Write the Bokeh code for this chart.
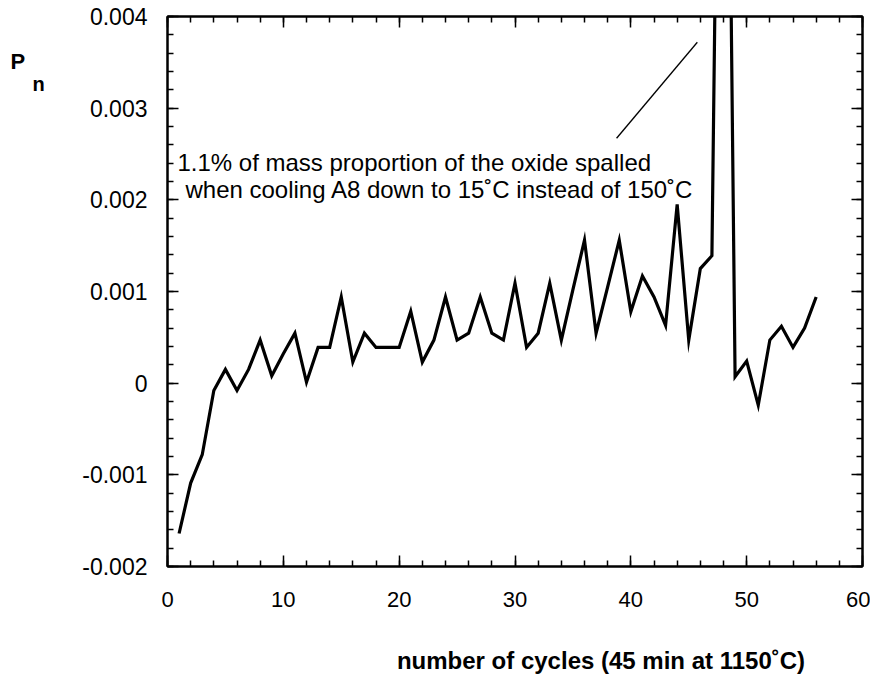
from bokeh.plotting import figure
from bokeh.layouts import row, column
from bokeh.models import (Range1d, LinearAxis, SingleIntervalTicker, Label,
                          CustomJSTickFormatter, ColumnDataSource)
from bokeh.embed import file_html
from bokeh.resources import INLINE

# ---- data ----
cycles = list(range(1, 57))
pn = [-1.64, -1.09, -0.78, -0.08, 0.15, -0.08, 0.15, 0.47, 0.08, 0.32,
      0.545, 0.01, 0.39, 0.39, 0.94, 0.23, 0.545, 0.39, 0.39, 0.39,
      0.785, 0.23, 0.47, 0.94, 0.47, 0.545, 0.94, 0.545, 0.47, 1.09,
      0.39, 0.545, 1.09, 0.47, 1.02, 1.56, 0.545, 1.05, 1.56, 0.78,
      1.17, 0.94, 0.63, 1.95, 0.47, 1.25, 1.39, 11.9, 0.07, 0.24,
      -0.24, 0.47, 0.62, 0.39, 0.60, 0.94]
pn = [v * 1e-3 for v in pn]

x_ticks_interval = 10
y_ticks_interval = 0.001

note_line1 = "1.1% of mass proportion of the oxide spalled"
note_line2 = "when cooling A8 down to 15˚C instead of 150˚C"
leader_x = [45.74, 38.77]
leader_y = [3.719e-3, 2.672e-3]
x_title = "number of cycles (45 min at 1150˚C)"
y_title_main = "P"
y_title_sub = "n"

FONT = "Liberation Sans"
TOTAL_W = 870
SIDE_W = 50
TOP_H = 620
BOTTOM_H = 54


def blank_fig(w, h):
    f = figure(width=w, height=h, output_backend="svg", toolbar_location=None,
               x_range=Range1d(0, w), y_range=Range1d(h, 0),
               x_axis_type=None, y_axis_type=None)
    f.min_border = 0
    f.min_border_left = 0
    f.min_border_right = 0
    f.min_border_top = 0
    f.min_border_bottom = 0
    f.outline_line_color = None
    f.xgrid.visible = False
    f.ygrid.visible = False
    return f


# narrow side strip holding the y-axis title (P with subscript n)
side = blank_fig(SIDE_W, TOP_H)
side.add_layout(Label(x=10, y=51, text=y_title_main, text_font=FONT,
                      text_font_size="22px", text_font_style="bold", text_color="black",
                      text_baseline="middle", text_align="left"))
side.add_layout(Label(x=32, y=76, text=y_title_sub, text_font=FONT,
                      text_font_size="20px", text_font_style="bold", text_color="black",
                      text_baseline="middle", text_align="left"))

# bottom strip holding the x-axis title
bottom = blank_fig(TOTAL_W, BOTTOM_H)
bottom.add_layout(Label(x=600.5, y=39.5, text=x_title, text_font=FONT,
                        text_font_size="24px", text_font_style="bold", text_color="black",
                        text_baseline="middle", text_align="center"))

p = figure(width=TOTAL_W - SIDE_W, height=TOP_H, output_backend="svg", toolbar_location=None,
           x_range=Range1d(0, 60), y_range=Range1d(-0.002, 0.004),
           x_axis_type=None, y_axis_type=None)
p.min_border_left = 167 - SIDE_W
p.min_border_right = 8
p.min_border_top = 16
p.min_border_bottom = TOP_H - 566
p.xgrid.visible = False
p.ygrid.visible = False
p.background_fill_color = "white"
p.border_fill_color = "white"
p.outline_line_color = "black"
p.outline_line_width = 2

fmt_y = CustomJSTickFormatter(code="return Math.abs(tick) < 1e-12 ? '0' : tick.toFixed(3);")
fmt_x = CustomJSTickFormatter(code="return tick.toFixed(0);")
fmt_none = CustomJSTickFormatter(code="return '';")


def style_axis(ax, labels):
    ax.axis_line_color = "black"
    ax.axis_line_width = 2
    ax.major_tick_in = 11
    ax.major_tick_out = 0
    ax.minor_tick_in = 6
    ax.minor_tick_out = 0
    ax.major_tick_line_width = 1.5
    ax.minor_tick_line_width = 1.5
    ax.major_tick_line_color = "black"
    ax.minor_tick_line_color = "black"
    if labels:
        ax.major_label_text_font = FONT
        ax.major_label_text_color = "black"
    else:
        ax.formatter = fmt_none
        ax.major_label_standoff = 0


left = LinearAxis(ticker=SingleIntervalTicker(interval=y_ticks_interval, num_minor_ticks=5),
                  formatter=fmt_y)
style_axis(left, True)
left.major_label_text_font_size = "23px"
left.major_label_standoff = 20
p.add_layout(left, "left")

right = LinearAxis(ticker=SingleIntervalTicker(interval=y_ticks_interval, num_minor_ticks=5))
style_axis(right, False)
p.add_layout(right, "right")

below = LinearAxis(ticker=SingleIntervalTicker(interval=x_ticks_interval, num_minor_ticks=5),
                   formatter=fmt_x)
style_axis(below, True)
below.major_label_text_font_size = "22px"
below.major_label_standoff = 25
p.add_layout(below, "below")

above = LinearAxis(ticker=SingleIntervalTicker(interval=x_ticks_interval, num_minor_ticks=5))
style_axis(above, False)
p.add_layout(above, "above")

src = ColumnDataSource(dict(x=cycles, y=pn))
p.line("x", "y", source=src, line_color="black", line_width=3.2, line_join="miter")

p.line(leader_x, leader_y, line_color="black", line_width=1.3)

p.add_layout(Label(x=0.86, y=2.412e-3, text=note_line1, text_font=FONT,
                   text_font_size="24px", text_color="black",
                   text_baseline="middle", text_align="left"))
p.add_layout(Label(x=1.55, y=2.118e-3, text=note_line2, text_font=FONT,
                   text_font_size="24px", text_color="black",
                   text_baseline="middle", text_align="left"))

layout = column(row(side, p), bottom)
open("out.html", "w").write(file_html(layout, INLINE))
